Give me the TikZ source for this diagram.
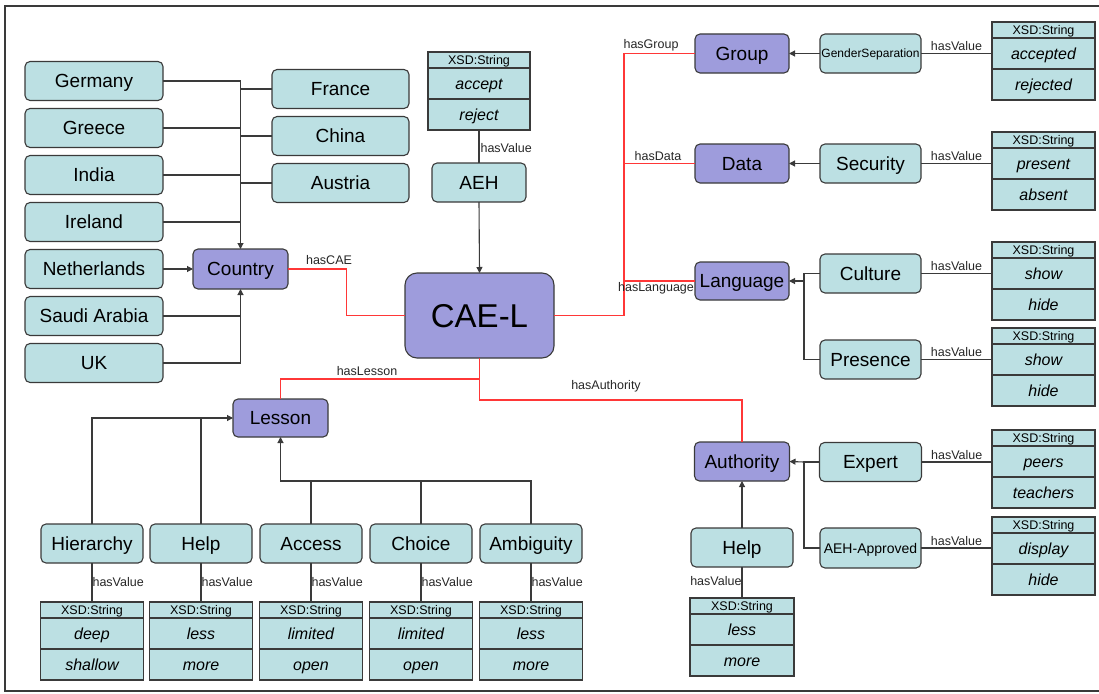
\documentclass[tikz,border=0pt]{standalone}
\usepackage{fontspec}
\setmainfont{Liberation Sans}
\usetikzlibrary{arrows.meta,calc}

\definecolor{tealfill}{RGB}{188,224,227}
\definecolor{lilac}{RGB}{158,156,220}
\definecolor{edgegray}{RGB}{58,58,58}
\definecolor{relred}{RGB}{255,55,55}

\tikzset{
  box/.style={draw=edgegray, line width=1.1pt, rounded corners=5pt, fill=tealfill,
    inner sep=0pt, outer sep=0pt, minimum height=39pt, text=black,
    font=\fontsize{19}{22}\selectfont, text height=13.7pt, text depth=0pt},
  classbox/.style={box, fill=lilac},
  xhead/.style={draw=edgegray, line width=1.1pt, fill=tealfill, inner sep=0pt, outer sep=0pt,
    minimum height=16pt, font=\fontsize{12.5}{14}\selectfont, text height=9pt, text depth=0pt},
  xrow/.style={xhead, minimum height=31pt, font=\fontsize{16}{18}\selectfont\itshape,
    text height=11.5pt},
  conn/.style={draw=edgegray, line width=1.1pt},
  arr/.style={conn, -{Triangle[width=6pt,length=6pt]}},
  rel/.style={draw=relred, line width=1.4pt},
  lbl/.style={font=\fontsize{12.5}{14}\selectfont, inner sep=1pt, text=black!85},
}

% XSD:String value box: name, centre x, top y, width, first value, second value
\newcommand\xsdbox[6]{%
  \node[xhead, minimum width=#4] (#1) at (#2,#3+8) {XSD:String};
  \node[xrow, minimum width=#4, anchor=north] (#1-a) at (#1.south) {#5};
  \node[xrow, minimum width=#4, anchor=north] (#1-b) at (#1-a.south) {#6};
}

\begin{document}
\begin{tikzpicture}[x=1pt,y=-1pt]
\useasboundingbox (0,0) rectangle (1099,693);

% frame
\draw[edgegray, line width=1.3pt] (1099,6) -- (5,6) -- (5,691) -- (1099,691);

% ---- countries ----
\foreach \n/\t/\y in {germany/Germany/81, greece/Greece/128, india/India/175,
    ireland/Ireland/222, netherlands/Netherlands/269, saudi/Saudi Arabia/316, uk/UK/363}
  \node[box, minimum width=138pt] (\n) at (94,\y) {\t};
\foreach \n/\t/\y in {france/France/89, china/China/136, austria/Austria/183}
  \node[box, minimum width=137pt] (\n) at (340.5,\y) {\t};
\node[classbox, minimum width=95pt, minimum height=40pt] (country) at (240.5,269) {Country};

\foreach \n in {germany, greece, india, ireland}
  \draw[conn] (\n.east) -- (\n.east -| country.north);
\foreach \n in {france, china}
  \draw[conn] (\n.west) -- (\n.west -| country.north);
\draw[conn, line width=2pt] (austria.west) -- (austria.west -| country.north);
\draw[arr] (germany.east -| country.north) -- (country.north);
\draw[arr] (netherlands.east) -- (country.west);
\draw[conn] (saudi.east) -- (saudi.east -| country.south);
\draw[arr] (uk.east) -| (country.south);

% ---- central class ----
\node[classbox, minimum width=149pt, minimum height=85pt, rounded corners=12pt,
  font=\fontsize{33}{38}\selectfont, text height=23.6pt] (cael) at (479.5,315.5) {CAE-L};

% AEH
\xsdbox{aehx}{479}{52}{102pt}{accept}{reject}
\node[box, minimum width=94pt] (aeh) at (479,182.5) {AEH};
\draw[conn] (aehx-b.south) -- node[lbl, right, pos=0.55] {hasValue} (aeh.north);
\draw[arr] (aeh.south) -- (cael.north);

% Country link
\draw[rel] (country.east) -- ++(58.5,0) coordinate (cbend) |- (cael.west);
\node[lbl] (lcae) at (329,260) {hasCAE};

% ---- right-hand classes ----
\node[classbox, minimum width=94pt] (group) at (742,53.5) {Group};
\node[classbox, minimum width=94pt] (data) at (742,163.5) {Data};
\node[classbox, minimum width=94pt, minimum height=38pt] (language) at (742,281) {Language};

\draw[rel] (cael.east) -- (624,315.5) coordinate (trunk) |- (group.west);
\draw[rel] (trunk |- data.west) -- (data.west);
\draw[rel] (trunk |- language.west) -- (language.west);
\node[lbl] (lgroup) at (651,45) {hasGroup};
\node[lbl] (ldata) at (658,156) {hasData};
\node[lbl] (llang) at (656,288) {hasLanguage};

\node[box, minimum width=101pt, font=\fontsize{12}{14}\selectfont, text height=8.6pt] (gender) at (870.5,53.5) {GenderSeparation};
\node[box, minimum width=101pt] (security) at (870.5,163.5) {Security};
\node[box, minimum width=101pt] (culture) at (870.5,273.5) {Culture};
\node[box, minimum width=101pt] (presence) at (870.5,359.5) {Presence};

\xsdbox{gx}{1043.5}{22}{103pt}{accepted}{rejected}
\xsdbox{sx}{1043.5}{132}{103pt}{present}{absent}
\xsdbox{cx}{1043.5}{242}{103pt}{show}{hide}
\xsdbox{px}{1043.5}{328}{103pt}{show}{hide}

\draw[arr] (gender.west) -- (group.east);
\draw[arr] (security.west) -- (data.east);
\draw[conn] (culture.west) -- (804,273.5) coordinate (lj) |- (presence.west);
\draw[arr] (lj |- language.east) -- (language.east);

\foreach \s/\x in {gender/gx, security/sx, culture/cx, presence/px}
  \draw[conn] (\s.east) -- node[lbl, above, yshift=1pt] {hasValue} (\s.east -| \x.west);

% ---- authority ----
\node[classbox, minimum width=95pt] (authority) at (742,461.5) {Authority};
\node[box, minimum width=102pt] (expert) at (870.5,462) {Expert};
\node[box, minimum width=101pt, minimum height=40pt, font=\fontsize{14}{16}\selectfont, text height=10pt] (aehapp) at (870.5,548) {AEH-Approved};
\xsdbox{ex}{1043.5}{430}{103pt}{peers}{teachers}
\xsdbox{ax}{1043.5}{517}{103pt}{display}{hide}
\draw[conn] (expert.west) -- (804,462) coordinate (aj) |- (aehapp.west);
\draw[arr] (aj) -- (authority.east);
\foreach \s/\x in {expert/ex, aehapp/ax}
  \draw[conn] (\s.east) -- node[lbl, above, yshift=1pt] {hasValue} (\s.east -| \x.west);

\node[box, minimum width=102pt] (helpb) at (742,547.5) {Help};
\xsdbox{hbx}{742}{598}{104pt}{less}{more}
\draw[arr] (helpb.north) -- (authority.south);
\draw[conn] (helpb.south) -- node[lbl, left, pos=0.45, xshift=1pt] {hasValue} (hbx.north);

\draw[rel] (cael.south) -- (479.5,400) -| (authority.north);
\node[lbl] (lauth) at (606,386) {hasAuthority};

% ---- lesson ----
\node[classbox, minimum width=95pt, minimum height=38pt] (lesson) at (280.5,418) {Lesson};
\draw[rel] (cael.south) -- (479.5,379) -| (lesson.north);
\node[lbl] (lles) at (367,371) {hasLesson};

\foreach \n/\t/\x/\xx/\va/\vb in {hier/Hierarchy/92/hix/deep/shallow,
    helpa/Help/201/hax/less/more, access/Access/311/acx/limited/open,
    choice/Choice/421/chx/limited/open, ambig/Ambiguity/531/amx/less/more} {
  \node[box, minimum width=102pt] (\n) at (\x,543.5) {\t};
  \xsdbox{\xx}{\x}{602}{103pt}{\va}{\vb}
  \draw[conn] (\n.south) -- node[lbl, right, pos=0.5, xshift=-1pt] {hasValue} (\xx.north);
}
\draw[arr] (hier.north) |- (lesson.west);
\draw[conn] (helpa.north) -- (helpa.north |- lesson.west);
\draw[arr] (ambig.north) -- ++(0,-43) -| (lesson.south);
\draw[conn] (access.north) -- ++(0,-43);
\draw[conn] (choice.north) -- ++(0,-43);
\end{tikzpicture}
\end{document}
